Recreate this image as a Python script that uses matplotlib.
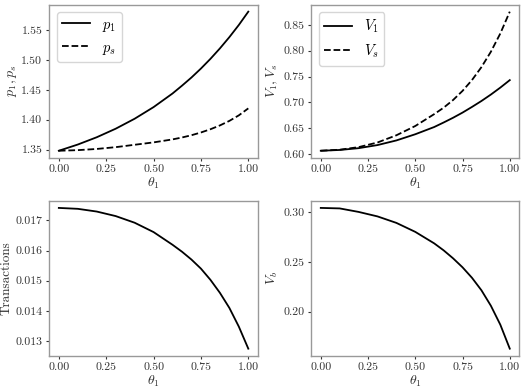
import matplotlib
matplotlib.use("Agg")
import matplotlib.pyplot as plt

plt.rcParams['font.family'] = 'serif'
plt.rcParams['font.serif'] = ['cmr10']
plt.rcParams['mathtext.fontset'] = 'cm'
plt.rcParams['axes.formatter.use_mathtext'] = True
plt.rcParams['font.size'] = 9

theta = [0.0, 0.1, 0.2, 0.3, 0.4, 0.5, 0.6, 0.65, 0.7, 0.75, 0.8, 0.85, 0.9, 0.95, 1.0]
p1 = [1.348, 1.3584, 1.3706, 1.3849, 1.4016, 1.4211, 1.4439, 1.4570, 1.4707, 1.4857, 1.5019, 1.5194, 1.5383, 1.5587, 1.5810]
ps = [1.348, 1.349, 1.351, 1.354, 1.358, 1.362, 1.367, 1.3702, 1.374, 1.3786, 1.384, 1.3904, 1.3980, 1.4073, 1.419]
V1 = [0.606, 0.6075, 0.611, 0.617, 0.626, 0.638, 0.652, 0.6608, 0.670, 0.6800, 0.691, 0.7025, 0.715, 0.7285, 0.743]
Vs = [0.606, 0.608, 0.613, 0.622, 0.636, 0.654, 0.677, 0.6895, 0.7044, 0.7221, 0.7431, 0.7682, 0.7980, 0.8335, 0.8758]
trans = [0.01741, 0.01738, 0.01729, 0.01714, 0.01692, 0.01661, 0.01619, 0.01596, 0.01570, 0.01540, 0.01503, 0.01460, 0.01410, 0.01348, 0.01275]
Vb = [0.304, 0.3035, 0.300, 0.2955, 0.289, 0.280, 0.2685, 0.2615, 0.2535, 0.2445, 0.234, 0.2215, 0.2060, 0.1870, 0.163]

xticks = [0.0, 0.25, 0.5, 0.75, 1.0]

fig = plt.figure(figsize=(5.25, 3.89), dpi=100)
pos = {
    'tl': [0.094, 0.5946, 0.397, 0.3933],
    'tr': [0.593, 0.5946, 0.396, 0.3933],
    'bl': [0.094, 0.0856, 0.397, 0.398],
    'br': [0.593, 0.0856, 0.396, 0.398],
}
axs = {k: fig.add_axes(v) for k, v in pos.items()}

TXT = '#333333'

def style(ax):
    for s in ax.spines.values():
        s.set_color('#999999')
        s.set_linewidth(1.0)
    ax.tick_params(colors=TXT, labelcolor=TXT, length=2.5, width=0.8, labelsize=8.5, pad=2.5)
    ax.set_xticks(xticks)
    ax.set_xticklabels(['0.00', '0.25', '0.50', '0.75', '1.00'])
    ax.set_xlabel(r'$\theta_1$', color=TXT, fontsize=10, labelpad=1)

ax = axs['tl']
ax.plot(theta, p1, 'k-', lw=1.3, label=r'$p_1$')
ax.plot(theta, ps, 'k--', lw=1.3, label=r'$p_s$')
ax.set_yticks([1.35, 1.40, 1.45, 1.50, 1.55])
ax.set_yticklabels(['1.35', '1.40', '1.45', '1.50', '1.55'])
ax.set_ylabel(r'$p_1, p_s$', color=TXT, fontsize=10, labelpad=2)
ax.legend(loc='upper left', fontsize=10.5, handlelength=1.9)
style(ax)

ax = axs['tr']
ax.plot(theta, V1, 'k-', lw=1.3, label=r'$V_1$')
ax.plot(theta, Vs, 'k--', lw=1.3, label=r'$V_s$')
ax.set_yticks([0.60, 0.65, 0.70, 0.75, 0.80, 0.85])
ax.set_yticklabels(['0.60', '0.65', '0.70', '0.75', '0.80', '0.85'])
ax.set_ylabel(r'$V_1, V_s$', color=TXT, fontsize=10, labelpad=2)
ax.legend(loc='upper left', fontsize=10.5, handlelength=1.9)
style(ax)

ax = axs['bl']
ax.plot(theta, trans, 'k-', lw=1.3)
ax.set_yticks([0.013, 0.014, 0.015, 0.016, 0.017])
ax.set_yticklabels(['0.013', '0.014', '0.015', '0.016', '0.017'])
ax.set_ylabel('Transactions', color=TXT, fontsize=9.5, labelpad=2)
style(ax)

ax = axs['br']
ax.plot(theta, Vb, 'k-', lw=1.3)
ax.set_yticks([0.20, 0.25, 0.30])
ax.set_yticklabels(['0.20', '0.25', '0.30'])
ax.set_ylabel(r'$V_b$', color=TXT, fontsize=10, labelpad=2)
style(ax)

fig.savefig('out.png', dpi=100)
